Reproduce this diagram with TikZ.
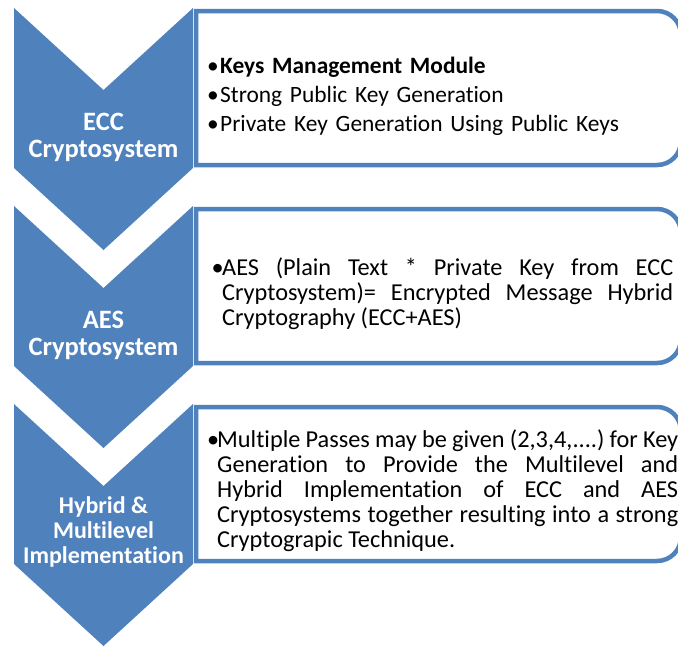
\documentclass[tikz,border=0pt]{standalone}
\usepackage{fontspec}
\setmainfont{Carlito}[Ligatures=NoCommon]
\definecolor{ChevBlue}{RGB}{79, 129, 189}
\usetikzlibrary{positioning}

\begin{document}
\frenchspacing
\begin{tikzpicture}[x=1pt, y=-1pt,
    chevshape/.style={fill=ChevBlue, draw=none},
    panelshape/.style={draw=ChevBlue, line width=4.5pt, fill=white},
    chevlabel/.style={text=white, align=center, inner sep=0pt, font=\bfseries\fontsize{26.5}{27}\selectfont},
    paneltext/.style={anchor=north west, inner sep=0pt, font=\fontsize{24.3}{25}\selectfont}]
    \useasboundingbox (0,0) rectangle (678,646);

    % panels on the right
    \draw[panelshape] (196,11) -- (657,11) arc[start angle=-90, end angle=0, radius=24] -- (681,141) arc[start angle=0, end angle=90, radius=24] -- (196,165) -- cycle;
    \draw[panelshape] (196,209) -- (657,209) arc[start angle=-90, end angle=0, radius=24] -- (681,339) arc[start angle=0, end angle=90, radius=24] -- (196,363) -- cycle;
    \draw[panelshape] (196,407) -- (657,407) arc[start angle=-90, end angle=0, radius=24] -- (681,537) arc[start angle=0, end angle=90, radius=24] -- (196,561) -- cycle;

    % chevrons on the left
    \fill[chevshape] (14,8) -- (103.5,90) -- (193,8) -- (193,168) -- (103.5,250) -- (14,168) -- cycle;
    \fill[chevshape] (14,206) -- (103.5,288) -- (193,206) -- (193,366) -- (103.5,448) -- (14,366) -- cycle;
    \fill[chevshape] (14,404) -- (103.5,486) -- (193,404) -- (193,564) -- (103.5,646) -- (14,564) -- cycle;

    \node[chevlabel] (ecc) at (103.5,137.5) {ECC\\Cryptosystem};
    \node[chevlabel] (aes) at (103.5,335.5) {AES\\Cryptosystem};
    \node[chevlabel, font=\bfseries\fontsize{24}{25}\selectfont] (hybrid) at (103.5,532) {Hybrid \&\\Multilevel\\Implementation};

    % panel texts
    \node[paneltext, text width=470, font=\fontsize{23.4}{29}\selectfont] (ecctext) at (207,57) {\noindent\makebox[13pt][l]{\textbullet}\textbf{Keys Management Module}\\
        \makebox[13pt][l]{\textbullet}Strong Public Key Generation\\
        \makebox[13pt][l]{\textbullet}Private Key Generation Using Public Keys};
    \node[paneltext, text width=461.5, align=justify] (aestext) at (211.5,257.5) {\noindent\hangindent=10.5pt\hangafter=1\makebox[10.5pt][l]{\textbullet}AES (Plain Text * Private Key from ECC\linebreak
        Cryptosystem)= Encrypted Message Hybrid\linebreak Cryptography (ECC+AES)\par};
    \node[paneltext, text width=471, align=justify] (hybtext) at (207,430) {\noindent\hangindent=10pt\hangafter=1\makebox[10pt][l]{\textbullet}Multiple Passes may be given (2,3,4,....) for Key\linebreak
        Generation to Provide the Multilevel and\linebreak Hybrid Implementation of ECC and AES\linebreak
        Cryptosystems together resulting into a strong\linebreak Cryptograpic Technique.\par};
\end{tikzpicture}
\end{document}
